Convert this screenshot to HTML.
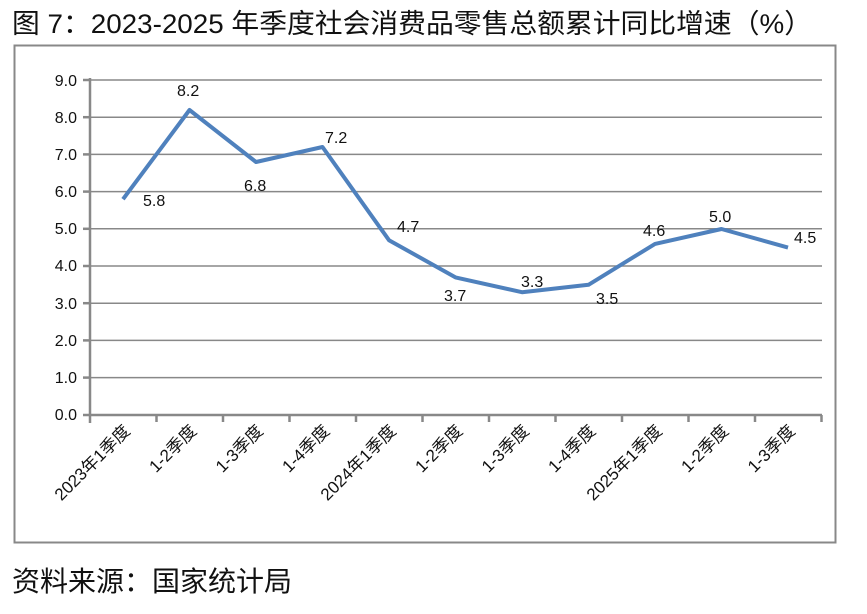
<!DOCTYPE html>
<html><head><meta charset="utf-8"><style>
html,body{margin:0;padding:0;background:#fff;width:867px;height:614px;overflow:hidden}
svg{display:block}
text{font-family:"Liberation Sans","Noto Sans CJK SC",sans-serif}
</style></head><body>
<svg width="867" height="614" viewBox="0 0 867 614">
<text x="12" y="33" font-size="27" fill="#111" textLength="800" lengthAdjust="spacingAndGlyphs">图 7：2023-2025 年季度社会消费品零售总额累计同比增速（%）</text>
<rect x="14.5" y="45.5" width="821" height="497" fill="none" stroke="#888" stroke-width="2"/>
<g stroke="#888" stroke-width="1.5">
<line x1="90" y1="80" x2="822" y2="80"/><line x1="90" y1="117.2" x2="822" y2="117.2"/>
<line x1="90" y1="154.4" x2="822" y2="154.4"/><line x1="90" y1="191.6" x2="822" y2="191.6"/>
<line x1="90" y1="228.8" x2="822" y2="228.8"/><line x1="90" y1="266" x2="822" y2="266"/>
<line x1="90" y1="303.2" x2="822" y2="303.2"/><line x1="90" y1="340.4" x2="822" y2="340.4"/>
<line x1="90" y1="377.6" x2="822" y2="377.6"/>
</g>
<g stroke="#888" stroke-width="2.5">
<line x1="90" y1="78" x2="90" y2="423"/>
<line x1="83" y1="415" x2="822" y2="415"/>
<line x1="83" y1="80" x2="90" y2="80"/><line x1="83" y1="117.2" x2="90" y2="117.2"/><line x1="83" y1="154.4" x2="90" y2="154.4"/><line x1="83" y1="191.6" x2="90" y2="191.6"/><line x1="83" y1="228.8" x2="90" y2="228.8"/><line x1="83" y1="266" x2="90" y2="266"/><line x1="83" y1="303.2" x2="90" y2="303.2"/><line x1="83" y1="340.4" x2="90" y2="340.4"/><line x1="83" y1="377.6" x2="90" y2="377.6"/>
<line x1="156.5" y1="415" x2="156.5" y2="422"/><line x1="223" y1="415" x2="223" y2="422"/><line x1="289.5" y1="415" x2="289.5" y2="422"/><line x1="356" y1="415" x2="356" y2="422"/><line x1="422.5" y1="415" x2="422.5" y2="422"/><line x1="489" y1="415" x2="489" y2="422"/><line x1="555.5" y1="415" x2="555.5" y2="422"/><line x1="622" y1="415" x2="622" y2="422"/><line x1="688.5" y1="415" x2="688.5" y2="422"/><line x1="755" y1="415" x2="755" y2="422"/><line x1="821.5" y1="415" x2="821.5" y2="422"/>
</g>
<g font-size="16" fill="#111" text-anchor="end">
<text x="77" y="86">9.0</text><text x="77" y="123">8.0</text><text x="77" y="160">7.0</text><text x="77" y="197">6.0</text><text x="77" y="234">5.0</text><text x="77" y="271">4.0</text><text x="77" y="309">3.0</text><text x="77" y="346">2.0</text><text x="77" y="383">1.0</text><text x="77" y="420">0.0</text>
</g>
<polyline fill="none" stroke="#4f81bd" stroke-width="4" stroke-linejoin="round" points="123,199.2 189.5,110 256,162 322.5,147 389,240.2 455.5,277.4 522,292.2 588.5,284.8 655,243.9 721.5,229 788,247.6"/>
<g font-size="16" fill="#111">
<text x="143" y="206">5.8</text><text x="177" y="96">8.2</text><text x="244" y="191">6.8</text><text x="325" y="143">7.2</text><text x="397" y="232">4.7</text><text x="444" y="301">3.7</text><text x="521" y="287">3.3</text><text x="596" y="304">3.5</text><text x="643" y="236">4.6</text><text x="709" y="222">5.0</text><text x="794" y="243">4.5</text>
</g>
<g font-size="17" fill="#111" text-anchor="end">
<text transform="translate(131,432) rotate(-45)">2023年1季度</text>
<text transform="translate(197.5,432) rotate(-45)">1-2季度</text>
<text transform="translate(264,432) rotate(-45)">1-3季度</text>
<text transform="translate(330.5,432) rotate(-45)">1-4季度</text>
<text transform="translate(397,432) rotate(-45)">2024年1季度</text>
<text transform="translate(463.5,432) rotate(-45)">1-2季度</text>
<text transform="translate(530,432) rotate(-45)">1-3季度</text>
<text transform="translate(596.5,432) rotate(-45)">1-4季度</text>
<text transform="translate(663,432) rotate(-45)">2025年1季度</text>
<text transform="translate(729.5,432) rotate(-45)">1-2季度</text>
<text transform="translate(796,432) rotate(-45)">1-3季度</text>
</g>
<text x="12" y="591" font-size="28" fill="#111">资料来源：国家统计局</text>
</svg>
</body></html>
